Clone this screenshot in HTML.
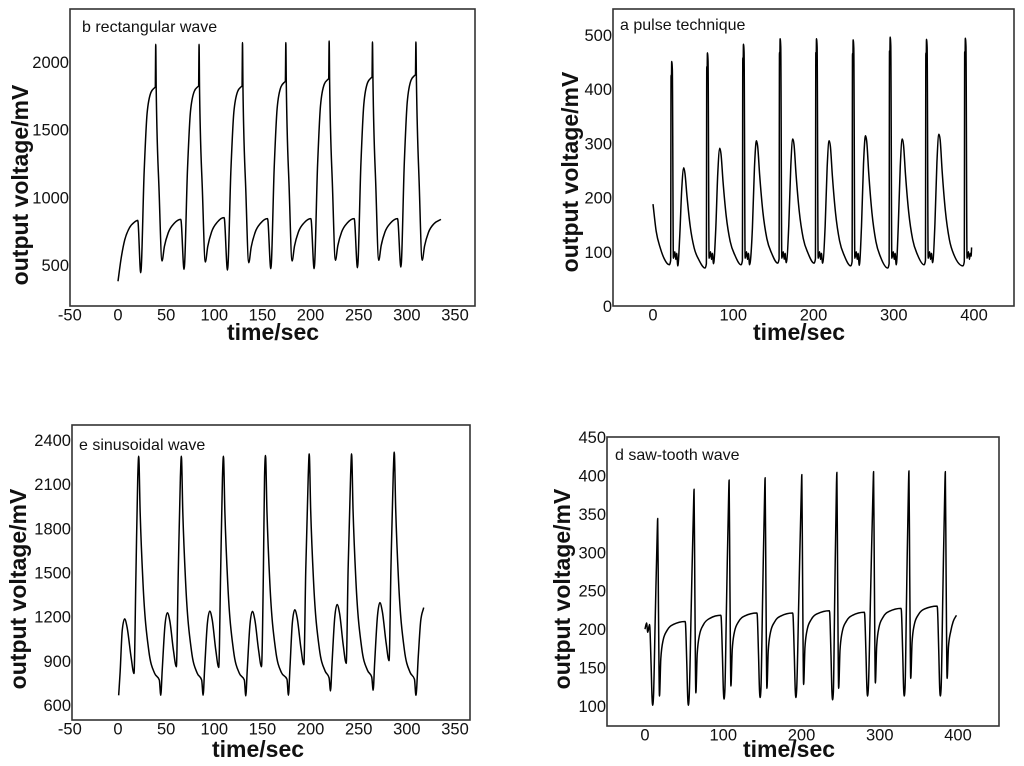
<!DOCTYPE html>
<html><head><meta charset="utf-8"><style>
html,body{margin:0;padding:0;background:#fff;}
svg{display:block;font-family:"Liberation Sans",Arial,sans-serif;}
</style></head><body>
<svg id="fig" width="1024" height="766" viewBox="0 0 1024 766"></svg>
<script>
// ---------- Panel b: rectangular wave ----------
const bSpikeT=[39.2,84.2,129.3,174.3,219.3,264.3,309.4];
const bSpikeV=[2130,2130,2143,2143,2155,2148,2148];
const bPlatV=[1810,1818,1818,1852,1872,1884,1901];
const bPreTroughV=[443,468,463,473,473,480,485];
const bPostTroughV=[530,522,517,530,535,535,535];
const bRecV=[837,850,843,843,843,843,837];
const bStart=[0,380], bFirstRec=830;
const bXTicks=[-50,0,50,100,150,200,250,300,350];
const bYTicks=[500,1000,1500,2000];
// ---------- Panel a: pulse technique ----------
const aSpikeT=[22.9,67.4,112.3,158,203.3,249,295.1,340.4,388.8];
const aSpikeV=[451,467,483,493,493,491,496,492,494];
const aBaseV=[76,70,76,79,79,74,70,76,74];
const aBroadT=[38.3,83.2,128.9,174.2,219.5,264.8,310.6,356.3];
const aBroadV=[255,291,305,308,305,314,308,317];
const aLowV=[74,78,76,80,79,75,76,80];
const aStart=[0,188], aEnd=[397,108];
const aXTicks=[0,100,200,300,400];
const aYTicks=[0,100,200,300,400,500];
// ---------- Panel e: sinusoidal wave ----------
const eDipT=[0.7,44.4,88.4,132.7,177,220.7,265,309.4];
const eDipV=[666,666,666,662,666,696,700,666];
const eBroadT=[6.9,51.3,95.3,139.6,183.6,227.6,272];
const eBroadV=[1185,1227,1238,1236,1247,1283,1295];
const eTroughT=[16.6,60.6,104.6,149,193,237,281.5];
const eTroughV=[814,860,855,860,873,883,901];
const ePeakT=[21.5,65.8,109.5,153.2,198.6,242.6,286.9];
const ePeakV=[2290,2290,2290,2295,2306,2306,2318];
const eShoulderV=[770,770,770,775,785,790,775];
const eEnd=[317.5,1262];
const eXTicks=[-50,0,50,100,150,200,250,300,350];
const eYTicks=[600,900,1200,1500,1800,2100,2400];
// ---------- Panel d: saw-tooth wave ----------
const dDeepT=[9.8,55.4,101,147.1,192.8,239.7,284.4,331.3,377.4];
const dDeepV=[101,101,109,111,111,108,113,113,113];
const dSpikeT=[16.2,62.7,107.5,153.5,200.4,245.2,292.1,337.3,383.8];
const dSpikeV=[344,382,394,397,401,404,405,406,405];
const dSmallV=[113,117,126,123,128,123,130,136,136];
const dPlatV=[206,210,218,221,221,224,222,227,230];
const dStart=[0,200], dEnd=[398,218];
const dXTicks=[0,100,200,300,400];
const dYTicks=[100,150,200,250,300,350,400,450];

const NS="http://www.w3.org/2000/svg";
const svg=document.getElementById('fig');
function mk(tag,attrs,parent){const e=document.createElementNS(NS,tag);for(const k in attrs)e.setAttribute(k,attrs[k]);(parent||svg).appendChild(e);return e;}

function lin(d0,d1,r0,r1){return v=>r0+(v-d0)*(r1-r0)/(d1-d0);}

function monoPath(p){
  const n=p.length;if(n<2)return '';
  const h=[],s=[];
  for(let i=0;i<n-1;i++){h.push(p[i+1][0]-p[i][0]);s.push((p[i+1][1]-p[i][1])/h[i]);}
  const t=new Array(n);
  t[0]=s[0];t[n-1]=s[n-2];
  for(let i=1;i<n-1;i++){
    const s0=s[i-1],s1=s[i],h0=h[i-1],h1=h[i];
    const q=(s0*h1+s1*h0)/(h0+h1);
    t[i]=(Math.sign(s0)+Math.sign(s1))*Math.min(Math.abs(s0),Math.abs(s1),0.5*Math.abs(q));
  }
  let d='M'+p[0][0].toFixed(2)+','+p[0][1].toFixed(2);
  for(let i=0;i<n-1;i++){
    const dx=h[i]/3;
    d+='C'+(p[i][0]+dx).toFixed(2)+','+(p[i][1]+t[i]*dx).toFixed(2)+' '+(p[i+1][0]-dx).toFixed(2)+','+(p[i+1][1]-t[i+1]*dx).toFixed(2)+' '+p[i+1][0].toFixed(2)+','+p[i+1][1].toFixed(2);
  }
  return d;
}

function panel(c){
  const g=mk('g',{});
  
  
  const box=mk('rect',{x:c.L,y:c.T,width:c.R-c.L,height:c.B-c.T,fill:'none',stroke:'#333','stroke-width':1.6},g);
  
  
  const xs=lin(c.x0,c.x1,c.px0,c.px1), ys=lin(c.y0,c.y1,c.py0,c.py1);
  c.xt.forEach(v=>{const t=mk('text',{x:xs(v),y:c.B+14.5,'text-anchor':'middle','font-size':16.5,fill:'#111'},g);t.textContent=v;
    
    });
  c.yt.forEach(v=>{const t=mk('text',{x:c.L-1,y:ys(v)+6,'text-anchor':'end','font-size':16.5,fill:'#111'},g);t.textContent=v;
    
    });
  const tl=mk('text',{x:c.tx,y:c.ty,'font-size':16,fill:'#111'},g);tl.textContent=c.title;
  
  
  const xt=mk('text',{x:c.xtx,y:c.xty+8,'text-anchor':'middle','font-size':23,'font-weight':'bold',fill:'#111'},g);xt.textContent='time/sec';
  
  
  const yt=mk('text',{x:0,y:0,'text-anchor':'middle','font-size':23,'font-weight':'bold',fill:'#111',transform:'translate('+(c.ytx+6)+','+c.yty+') rotate(-90)'},g);yt.textContent='output voltage/mV';
  
  
  const pts=c.pts.map(q=>[xs(q[0]),ys(q[1])]);
  const path=mk('path',{d:monoPath(pts),fill:'none',stroke:'#000','stroke-width':1.5,'stroke-linejoin':'round'},g);
  
  
}

function buildB(){
  const p=[];const s=bStart[1],R0=bFirstRec;
  p.push([0,s],[3,s+.35*(R0-s)],[7,s+.68*(R0-s)],[12,s+.88*(R0-s)],[17,s+.97*(R0-s)],[bSpikeT[0]-18.7,R0]);
  for(let k=0;k<bSpikeT.length;k++){
    const S=bSpikeT[k],P=bPlatV[k],pre=bPreTroughV[k],pk=bSpikeV[k],po=bPostTroughV[k],R=bRecV[k];
    p.push([S-15.6,pre],[S-12,pre+.55*(P-pre)],[S-9,pre+.86*(P-pre)],[S-5,P-35],[S-1.2,P],[S-0.5,P+5],[S,pk],[S+0.5,P-20],
      [S+3.5,po+.4*(P-po)],[S+6.5,po],[S+9,po+.35*(R-po)],[S+13,po+.68*(R-po)],[S+19,po+.9*(R-po)],[S+26,R]);
  }
  return p;
}
function buildA(){
  const p=[];const s=aStart[1],b0=aBaseV[0];
  p.push([0,s],[4,b0+.55*(s-b0)],[9,b0+.28*(s-b0)],[14,b0+.1*(s-b0)],[aSpikeT[0]-2.5,b0]);
  for(let k=0;k<aSpikeT.length;k++){
    const S=aSpikeT[k],pk=aSpikeV[k],bs=aBaseV[k];
    if(k>0)p.push([S-2.5,bs]);
    p.push([S-0.9,bs+8],[S-0.4,pk-25],[S,pk-45],[S+0.4,pk],[S+1.2,pk-15],[S+2.5,88],[S+4.3,100],[S+5.5,86],[S+6.6,97]);
    if(k<aBroadT.length){
      const B=aBroadT[k],bv=aBroadV[k],lo=aLowV[k],bn=aBaseV[k+1];
      p.push([S+8,lo],[B-5,lo+.3*(bv-lo)],[B-2.5,lo+.78*(bv-lo)],[B,bv],[B+1.5,bv-10],[B+4,bn+.72*(bv-bn)],[B+8,bn+.42*(bv-bn)],[B+13,bn+.2*(bv-bn)],[B+19,bn+.08*(bv-bn)]);
    } else {
      p.push([aEnd[0]-0.6,92],[aEnd[0],aEnd[1]]);
    }
  }
  return p;
}
function buildE(){
  const p=[];
  for(let k=0;k<eBroadT.length;k++){
    const td=eDipT[k],vd=eDipV[k],tb=eBroadT[k],vb=eBroadV[k],tt=eTroughT[k],vt=eTroughV[k],tp=ePeakT[k],vp=ePeakV[k],sh=eShoulderV[k];
    p.push([td,vd],[td+1.5,vd+.3*(vb-vd)],[tb-2.5,vd+.85*(vb-vd)],[tb,vb],[tb+2.5,vb-.15*(vb-vt)],[tt-3,vt+.3*(vb-vt)],[tt,vt],
      [tt+2,vt+.45*(vp-vt)],[tp-1,vp-.1*(vp-vt)],[tp,vp],[tp+1.5,sh+.75*(vp-sh)],[tp+4.5,sh+.43*(vp-sh)],[tp+10.5,sh+.13*(vp-sh)],[tp+16.5,sh+.03*(vp-sh)],[eDipT[k+1]-1.5,sh]);
  }
  const tl=eDipT[eDipT.length-1],vl=eDipV[eDipV.length-1];
  p.push([tl,vl],[tl+2.5,vl+.45*(eEnd[1]-vl)],[tl+5,vl+.85*(eEnd[1]-vl)],[eEnd[0],eEnd[1]]);
  return p;
}
function buildD(){
  const p=[];
  p.push([dStart[0],dStart[1]],[2,208],[3.5,196],[dDeepT[0]-4,dPlatV[0]]);
  for(let k=0;k<dDeepT.length;k++){
    const D=dDeepT[k],vD=dDeepV[k],S=dSpikeT[k],pk=dSpikeV[k],sm=dSmallV[k],E=dPlatV[k];
    p.push([D-2,vD+.5*(E-vD)],[D-0.8,vD+10],[D,vD],[D+1,vD+10],[D+.5*(S-D),vD+.45*(pk-vD)],[S-0.5,pk-15],[S,pk],[S+1,sm+.5*(pk-sm)],[S+2.3,sm]);
    if(k<dDeepT.length-1){
      const En=dPlatV[k+1],Dn=dDeepT[k+1];
      p.push([S+4,sm+.5*(En-sm)],[S+7,sm+.75*(En-sm)],[S+12,sm+.88*(En-sm)],[S+20,sm+.96*(En-sm)],[Dn-4,En]);
    } else {
      const En=dEnd[1];
      p.push([S+4,sm+.5*(En-sm)],[S+7,sm+.75*(En-sm)],[S+10,sm+.9*(En-sm)],[dEnd[0],En]);
    }
  }
  return p;
}

panel({name:'panel-b-rectangular-wave',L:70,T:9,R:475,B:306,x0:0,x1:350,px0:118,px1:455,y0:500,y1:2000,py0:265,py1:62,
  xt:bXTicks,yt:bYTicks,title:'b  rectangular wave',tx:82,ty:32,xtx:273,xty:332,ytx:22,yty:185,pts:buildB()});
panel({name:'panel-a-pulse-technique',L:613,T:9,R:1014,B:306,x0:0,x1:400,px0:653,px1:974,y0:0,y1:500,py0:306,py1:35,
  xt:aXTicks,yt:aYTicks,title:'a  pulse technique',tx:620,ty:30,xtx:799,xty:332,ytx:572,yty:172,pts:buildA()});
panel({name:'panel-e-sinusoidal-wave',L:72,T:425,R:470,B:720,x0:0,x1:350,px0:118,px1:455,y0:600,y1:2400,py0:705,py1:440,
  xt:eXTicks,yt:eYTicks,title:'e sinusoidal wave',tx:79,ty:450,xtx:258,xty:749,ytx:20,yty:589,pts:buildE()});
panel({name:'panel-d-saw-tooth-wave',L:607,T:437,R:999,B:726,x0:0,x1:400,px0:645,px1:958,y0:100,y1:450,py0:706,py1:437,
  xt:dXTicks,yt:dYTicks,title:'d  saw-tooth wave',tx:615,ty:460,xtx:789,xty:749,ytx:564,yty:589,pts:buildD()});
</script>
</body></html>
